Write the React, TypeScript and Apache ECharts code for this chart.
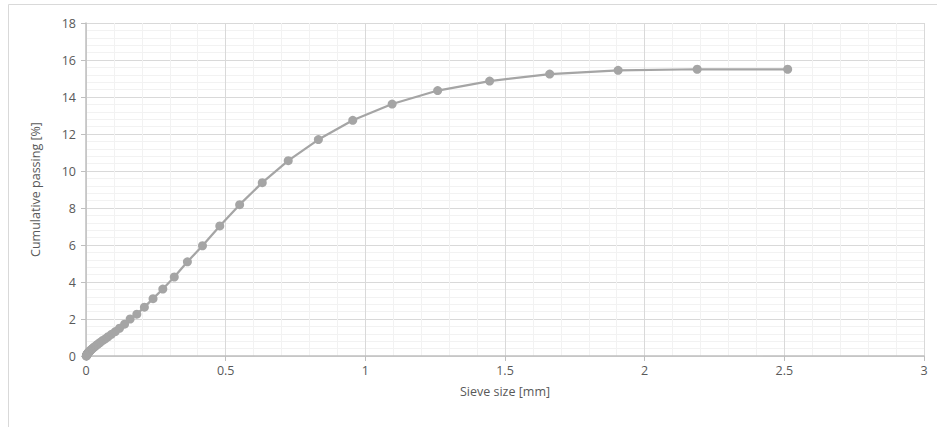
import React, { useEffect, useRef } from "react";
import * as echarts from "echarts";

// Sieve sizes [mm]
const sieveSizes: number[] = [
  2.512, 2.188, 1.905, 1.66, 1.445, 1.259, 1.096, 0.955, 0.832, 0.724,
  0.631, 0.55, 0.479, 0.417, 0.363, 0.316, 0.275, 0.24, 0.209, 0.182,
  0.158, 0.138, 0.12, 0.105, 0.091, 0.079, 0.069, 0.06, 0.052, 0.046,
  0.04, 0.035, 0.03, 0.026, 0.023, 0.02, 0.017, 0.015, 0.013, 0.0115,
  0.01, 0.0087, 0.0076, 0.0066, 0.0058, 0.005, 0.0044, 0.0038, 0.0033,
  0.0029, 0.0025, 0.0022, 0.0019, 0.0017, 0.0014, 0.0012,
];

// Cumulative passing [%]
const cumulativePassing: number[] = [
  15.5, 15.5, 15.44, 15.24, 14.86, 14.35, 13.62, 12.74, 11.7, 10.56,
  9.37, 8.18, 7.03, 5.96, 5.09, 4.27, 3.62, 3.1, 2.64, 2.26,
  2.0, 1.72, 1.5, 1.32, 1.17, 1.04, 0.93, 0.84, 0.75, 0.68,
  0.61, 0.55, 0.49, 0.44, 0.4, 0.36, 0.32, 0.29, 0.26, 0.23,
  0.21, 0.19, 0.17, 0.15, 0.13, 0.11, 0.1, 0.08, 0.07,
  0.06, 0.05, 0.04, 0.03, 0.02, 0.01, 0.0,
];

const xAxisName = "Sieve size [mm]";
const yAxisName = "Cumulative passing [%]";

export default function App() {
  const ref = useRef<HTMLDivElement>(null);

  useEffect(() => {
    if (!ref.current) return;
    const chart = echarts.init(ref.current, undefined, { renderer: "svg" });
    const font = "'Open Sans', 'Noto Sans', sans-serif";
    const data = sieveSizes.map((x, i) => [x, cumulativePassing[i]]);
    chart.setOption({
      animation: false,
      backgroundColor: "#ffffff",
      textStyle: { fontFamily: font },
      graphic: [
        {
          type: "rect",
          shape: { x: 8.5, y: 4.5, width: 940, height: 440 },
          style: { fill: "none", stroke: "#D9D9D9", lineWidth: 1 },
          silent: true,
          z: -10,
        },
      ],
      grid: { left: 86, right: 13, top: 23, bottom: 71, containLabel: false },
      xAxis: {
        type: "value",
        min: 0,
        max: 3,
        interval: 0.5,
        name: xAxisName,
        nameLocation: "middle",
        nameGap: 29,
        nameTextStyle: { color: "#595959", fontSize: 12.5, fontFamily: font },
        axisLine: { show: true, lineStyle: { color: "#BFBFBF", width: 1.5 } },
        axisTick: { show: true, length: 5, lineStyle: { color: "#BFBFBF" } },
        axisLabel: { color: "#595959", fontSize: 12.5, margin: 8, fontFamily: font },
        splitLine: { show: true, lineStyle: { color: "#D9D9D9", width: 1 } },
        minorTick: { show: false, splitNumber: 5 },
        minorSplitLine: { show: true, lineStyle: { color: "#F2F2F2", width: 1 } },
      },
      yAxis: {
        type: "value",
        min: 0,
        max: 18,
        interval: 2,
        name: yAxisName,
        nameLocation: "middle",
        nameGap: 44,
        nameTextStyle: { color: "#595959", fontSize: 12.5, fontFamily: font },
        axisLine: { show: true, lineStyle: { color: "#BFBFBF", width: 1.5 } },
        axisTick: { show: true, length: 5, lineStyle: { color: "#BFBFBF" } },
        axisLabel: { color: "#595959", fontSize: 12.5, margin: 10, fontFamily: font },
        splitLine: { show: true, lineStyle: { color: "#D9D9D9", width: 1 } },
        minorTick: { show: false, splitNumber: 5 },
        minorSplitLine: { show: true, lineStyle: { color: "#F2F2F2", width: 1 } },
      },
      series: [
        {
          type: "line",
          data,
          showSymbol: true,
          symbol: "circle",
          symbolSize: 9,
          itemStyle: { color: "#A5A5A5" },
          lineStyle: { color: "#A5A5A5", width: 2.25 },
          clip: false,
        },
      ],
    });
    return () => chart.dispose();
  }, []);

  return (
    <div
      ref={ref}
      style={{ position: "fixed", left: 0, top: 0, width: 937, height: 427 }}
    />
  );
}
